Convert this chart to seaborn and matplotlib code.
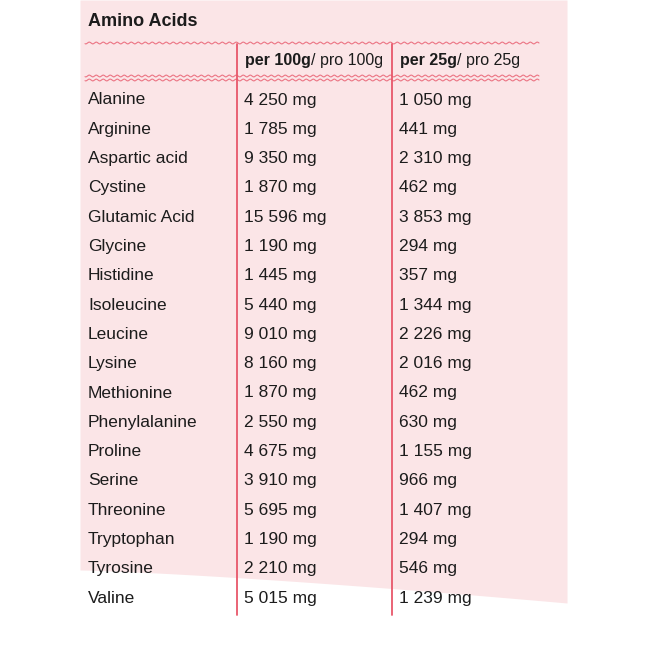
import numpy as np
import matplotlib
matplotlib.use('Agg')
import matplotlib.pyplot as plt
import seaborn as sns

names = ['Alanine', 'Arginine', 'Aspartic acid', 'Cystine', 'Glutamic Acid', 'Glycine',
         'Histidine', 'Isoleucine', 'Leucine', 'Lysine', 'Methionine', 'Phenylalanine',
         'Proline', 'Serine', 'Threonine', 'Tryptophan', 'Tyrosine', 'Valine']
per100 = ['4 250 mg', '1 785 mg', '9 350 mg', '1 870 mg', '15 596 mg', '1 190 mg',
          '1 445 mg', '5 440 mg', '9 010 mg', '8 160 mg', '1 870 mg', '2 550 mg',
          '4 675 mg', '3 910 mg', '5 695 mg', '1 190 mg', '2 210 mg', '5 015 mg']
per25 = ['1 050 mg', '441 mg', '2 310 mg', '462 mg', '3 853 mg', '294 mg',
         '357 mg', '1 344 mg', '2 226 mg', '2 016 mg', '462 mg', '630 mg',
         '1 155 mg', '966 mg', '1 407 mg', '294 mg', '546 mg', '1 239 mg']

fam = 'Liberation Sans'

sns.set_theme(style='white')
fig = plt.figure(figsize=(6.46, 6.46), dpi=100)
ax = fig.add_axes([0, 0, 1, 1])
ax.set_xlim(0, 646)
ax.set_ylim(646, 0)
ax.axis('off')

pink = '#fbe5e7'
red = '#e8576a'
ink = '#1c1c1c'

# pink panel with curved bottom edge
xs = np.linspace(80, 567, 100)
bottom = 570 + 33 * ((xs - 80) / 487) ** 1.3
ax.fill_between(xs, 0, bottom, color=pink, lw=0, zorder=0)

# wavy rules
xw = np.linspace(85, 539, 800)
for y0 in [43, 76, 80]:
    ax.plot(xw, y0 + 0.9 * np.sin(xw * 2 * np.pi / 7), color=red, lw=0.8, alpha=0.8, zorder=1)

for xv in [237, 392]:
    ax.plot([xv, xv], [44, 615], color=red, lw=1.3, zorder=1)

kw = dict(family=fam, color=ink, va='center', ha='left')
ax.text(88, 22, 'Amino Acids', fontsize=13, weight='bold', **kw)


def header(x, bold, rest):
    t = ax.text(x, 60, bold, fontsize=11.5, weight='bold', **kw)
    fig.canvas.draw()
    bb = t.get_window_extent().transformed(ax.transData.inverted())
    ax.text(bb.x1, 60, rest, fontsize=11.5, **kw)


header(245, 'per 100g', '/ pro 100g')
header(400, 'per 25g', '/ pro 25g')

for i, (n, a, b) in enumerate(zip(names, per100, per25)):
    y = 100 + i * 29.3
    ax.text(88, y, n, fontsize=12.5, **kw)
    ax.text(244, y, a, fontsize=12.5, **kw)
    ax.text(399, y, b, fontsize=12.5, **kw)

fig.savefig('out.png', dpi=100)
